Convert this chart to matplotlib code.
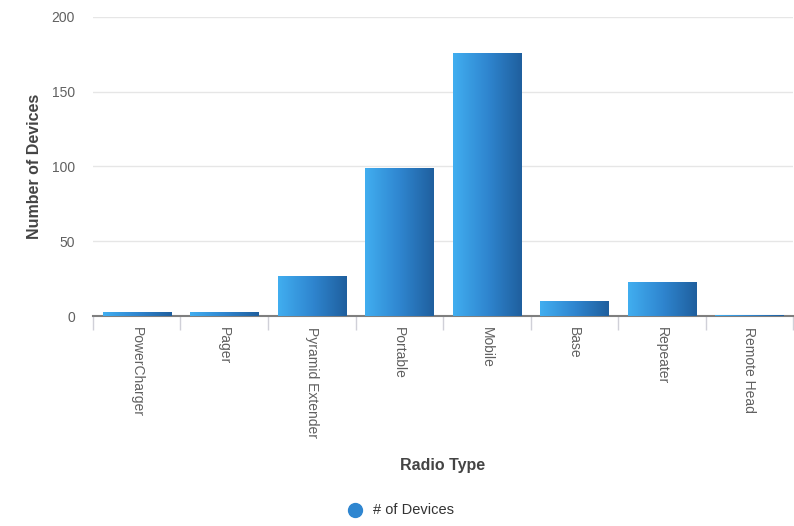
import numpy as np
import matplotlib
matplotlib.use("Agg")
import matplotlib.pyplot as plt
from matplotlib.colors import LinearSegmentedColormap
from matplotlib.lines import Line2D

plt.rcParams['font.family'] = ['Liberation Sans', 'DejaVu Sans']

categories = ["PowerCharger", "Pager", "Pyramid Extender", "Portable",
              "Mobile", "Base", "Repeater", "Remote Head"]
counts = [3, 3, 27, 99, 176, 10, 23, 1]

fig = plt.figure(figsize=(7.94, 5.26), dpi=100)
ax = fig.add_axes([0.117, 0.399, 0.882, 0.569])

x = np.arange(len(categories))
bars = ax.bar(x, counts, width=0.78, color='none', zorder=3)

# gradient fill, light blue on the left to darker blue on the right
cmap = LinearSegmentedColormap.from_list("bar", ["#41aef0", "#2f86d0", "#1f5f9e"])
grad = np.linspace(0, 1, 256).reshape(1, -1)
for b in bars:
    bx, by = b.get_x(), b.get_y()
    w, h = b.get_width(), b.get_height()
    im = ax.imshow(grad, cmap=cmap, aspect='auto', extent=[bx, bx + w, by, by + h],
                   zorder=3, interpolation='bicubic')
    im.set_clip_path(b)

ax.set_xlim(-0.5, len(categories) - 0.5)
ax.set_ylim(0, 200)
ax.set_yticks([0, 50, 100, 150, 200])
ax.grid(axis='y', color='#e6e6e6', linewidth=1, zorder=0)

for s in ['left', 'right', 'top']:
    ax.spines[s].set_visible(False)
ax.spines['bottom'].set_color('#7f7f7f')
ax.spines['bottom'].set_linewidth(1.5)
ax.spines['bottom'].set_zorder(2)

ax.tick_params(axis='y', length=0, pad=13, labelsize=10, labelcolor='#606060')
ax.set_xticks(x)
ax.set_xticklabels(categories, rotation=-90, fontsize=10, color='#606060')
ax.tick_params(axis='x', length=0, pad=8)
ax.set_xticks(np.arange(len(categories) + 1) - 0.5, minor=True)
ax.tick_params(axis='x', which='minor', length=10, color='#d0d0d8', width=1)

ax.set_xlabel("Radio Type", fontsize=11.5, fontweight='bold', color='#444444', labelpad=14)
ax.set_ylabel("Number of Devices", fontsize=11.5, fontweight='bold', color='#444444', labelpad=7)

# legend
fig.add_artist(Line2D([355 / 794], [1 - 510 / 526], marker='o', markersize=10,
                      color='#2f86d0', linestyle='none', transform=fig.transFigure))
fig.text(373 / 794, 1 - 510 / 526, "# of Devices", fontsize=10.5, color='#333333',
         ha='left', va='center')

fig.savefig("out.png", dpi=100)
